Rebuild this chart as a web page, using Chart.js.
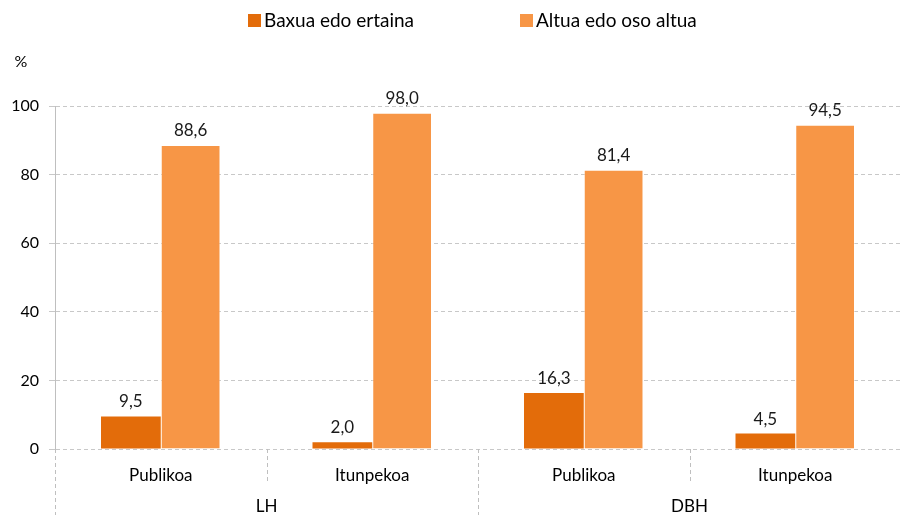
<!DOCTYPE html>
<html>
<head>
<meta charset="utf-8">
<script src="https://cdn.jsdelivr.net/npm/chart.js@4"></script>
<style>
  html, body { margin: 0; padding: 0; background: #fff; }
  #wrap { width: 901px; height: 515px; position: relative; }
</style>
</head>
<body>
<div id="wrap"><canvas id="chart"></canvas></div>
<script>
// datos
const categories = ["Publikoa", "Itunpekoa", "Publikoa", "Itunpekoa"];
const groups = ["LH", "DBH"];
const seriesNames = ["Baxua edo ertaina", "Altua edo oso altua"];
const lowMid = [9.5, 2.0, 16.3, 4.5];
const highVeryHigh = [88.6, 98.0, 81.4, 94.5];
const yTicks = [0, 20, 40, 60, 80, 100];

const FONT = "Lato, 'Liberation Sans', sans-serif";
const colors = ["#E36C0A", "#F79646"];

// legend + "%" + valores + separadores abajo
const extras = {
  id: "extras",
  afterDraw(chart) {
    const ctx = chart.ctx;
    const x = chart.scales.x;
    const area = chart.chartArea;
    ctx.save();

    // leyenda
    const legendPos = [248, 520];
    ctx.font = "19px " + FONT;
    ctx.textBaseline = "middle";
    ctx.textAlign = "left";
    seriesNames.forEach((name, i) => {
      ctx.fillStyle = colors[i];
      ctx.fillRect(legendPos[i], 14, 13, 13);
      ctx.fillStyle = "#000";
      ctx.fillText(name, legendPos[i] + 16, 21);
    });

    // %
    ctx.font = "16px " + FONT;
    ctx.textAlign = "center";
    ctx.fillText("%", 21, 62);

    // valores encima de las barras
    ctx.font = "17px " + FONT;
    ctx.fillStyle = "#1a1a1a";
    ctx.textBaseline = "bottom";
    chart.data.datasets.forEach((ds, di) => {
      chart.getDatasetMeta(di).data.forEach((bar, i) => {
        ctx.fillText(ds.data[i].toFixed(1).replace(".", ","), bar.x, bar.y - 6);
      });
    });

    // separadores de categorias
    const n = categories.length;
    const step = (x.getPixelForValue(1) - x.getPixelForValue(0));
    ctx.strokeStyle = "#bfbfbf";
    ctx.lineWidth = 1;
    ctx.setLineDash([4, 3]);
    for (let i = 0; i < n; i++) {
      const bx = Math.round(x.getPixelForValue(i) - step / 2) + 0.5;
      const long = i % 2 === 0;
      ctx.beginPath();
      ctx.moveTo(bx, area.bottom);
      ctx.lineTo(bx, long ? 515 : area.bottom + 34);
      ctx.stroke();
    }
    ctx.setLineDash([]);

    // etiquetas de grupo
    ctx.fillStyle = "#000";
    ctx.font = "17px " + FONT;
    ctx.textBaseline = "middle";
    groups.forEach((g, gi) => {
      const gx = (x.getPixelForValue(gi * 2) + x.getPixelForValue(gi * 2 + 1)) / 2;
      ctx.fillText(g, gx, 507);
    });
    ctx.restore();
  }
};

const ctx = document.getElementById("chart").getContext("2d");
new Chart(ctx, {
  type: "bar",
  data: {
    labels: categories,
    datasets: [
      {
        label: seriesNames[0],
        data: lowMid,
        backgroundColor: colors[0],
        borderWidth: 0,
      },
      {
        label: seriesNames[1],
        data: highVeryHigh,
        backgroundColor: colors[1],
        borderColor: "rgba(255,255,255,0.4)",
        borderWidth: 1,
      },
    ],
  },
  options: {
    responsive: true,
    maintainAspectRatio: false,
    animation: false,
    layout: { padding: { top: 106, left: 0, right: -18, bottom: 0 } },
    plugins: {
      legend: { display: false },
      tooltip: { enabled: false },
    },
    datasets: {
      bar: { categoryPercentage: 0.565, barPercentage: 1.0 },
    },
    scales: {
      x: {
        grid: { display: false },
        border: { display: false },
        ticks: {
          color: "#000",
          font: { family: FONT, size: 17 },
          padding: 8,
          maxRotation: 0,
        },
        afterFit: (s) => { s.height = 66; },
      },
      y: {
        min: 0,
        max: 100,
        afterBuildTicks: (s) => { s.ticks = yTicks.map(v => ({ value: v })); },
        ticks: {
          color: "#000",
          font: { family: FONT, size: 16 },
          padding: 10,
        },
        grid: {
          color: "#c8c8c8",
          tickLength: 6,
        },
        border: { display: true, color: "#bfbfbf", dash: [4, 3] },
        afterFit: (s) => { s.width = 55; },
      },
    },
  },
  plugins: [extras],
});
</script>
</body>
</html>
